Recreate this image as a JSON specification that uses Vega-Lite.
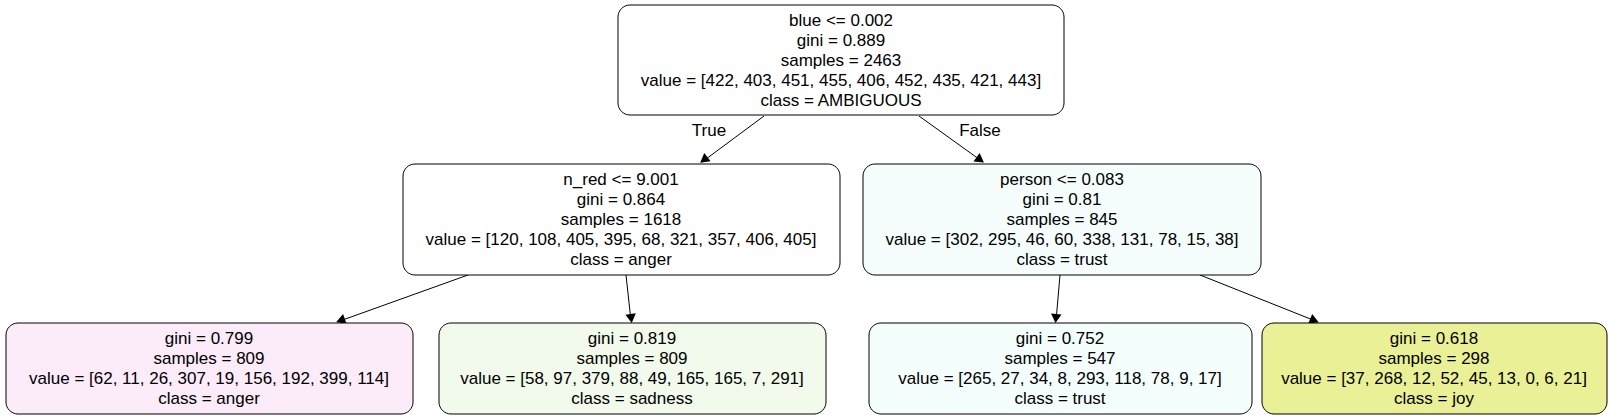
{
  "$schema": "https://vega.github.io/schema/vega-lite/v6.json",
  "width": 1610,
  "height": 419,
  "autosize": {"type": "fit", "contains": "padding"},
  "padding": 0,
  "background": "white",
  "config": {"view": {"stroke": null}},
  "datasets": {
    "nodes": [
      {"id": "root", "x0": 618, "x1": 1064, "y0": 5, "y1": 115, "fill": "#ffffff"},
      {"id": "l1", "x0": 403, "x1": 840, "y0": 164, "y1": 275, "fill": "#ffffff"},
      {"id": "r1", "x0": 863, "x1": 1261, "y0": 164, "y1": 275, "fill": "#f6fdfd"},
      {"id": "a", "x0": 6, "x1": 413, "y0": 323, "y1": 414, "fill": "#fcebf9"},
      {"id": "b", "x0": 439, "x1": 826, "y0": 323, "y1": 414, "fill": "#f1faeb"},
      {"id": "c", "x0": 869, "x1": 1252, "y0": 323, "y1": 414, "fill": "#f4fefd"},
      {"id": "d", "x0": 1262, "x1": 1607, "y0": 323, "y1": 414, "fill": "#eaf095"}
    ],
    "lines": [
      {"x": 841, "y": 21, "text": "blue <= 0.002"},
      {"x": 841, "y": 41, "text": "gini = 0.889"},
      {"x": 841, "y": 61, "text": "samples = 2463"},
      {"x": 841, "y": 81, "text": "value = [422, 403, 451, 455, 406, 452, 435, 421, 443]"},
      {"x": 841, "y": 101, "text": "class = AMBIGUOUS"},
      {"x": 621, "y": 180, "text": "n_red <= 9.001"},
      {"x": 621, "y": 200, "text": "gini = 0.864"},
      {"x": 621, "y": 220, "text": "samples = 1618"},
      {"x": 621, "y": 240, "text": "value = [120, 108, 405, 395, 68, 321, 357, 406, 405]"},
      {"x": 621, "y": 260, "text": "class = anger"},
      {"x": 1062, "y": 180, "text": "person <= 0.083"},
      {"x": 1062, "y": 200, "text": "gini = 0.81"},
      {"x": 1062, "y": 220, "text": "samples = 845"},
      {"x": 1062, "y": 240, "text": "value = [302, 295, 46, 60, 338, 131, 78, 15, 38]"},
      {"x": 1062, "y": 260, "text": "class = trust"},
      {"x": 209, "y": 339, "text": "gini = 0.799"},
      {"x": 209, "y": 359, "text": "samples = 809"},
      {"x": 209, "y": 379, "text": "value = [62, 11, 26, 307, 19, 156, 192, 399, 114]"},
      {"x": 209, "y": 399, "text": "class = anger"},
      {"x": 632, "y": 339, "text": "gini = 0.819"},
      {"x": 632, "y": 359, "text": "samples = 809"},
      {"x": 632, "y": 379, "text": "value = [58, 97, 379, 88, 49, 165, 165, 7, 291]"},
      {"x": 632, "y": 399, "text": "class = sadness"},
      {"x": 1060, "y": 339, "text": "gini = 0.752"},
      {"x": 1060, "y": 359, "text": "samples = 547"},
      {"x": 1060, "y": 379, "text": "value = [265, 27, 34, 8, 293, 118, 78, 9, 17]"},
      {"x": 1060, "y": 399, "text": "class = trust"},
      {"x": 1434, "y": 339, "text": "gini = 0.618"},
      {"x": 1434, "y": 359, "text": "samples = 298"},
      {"x": 1434, "y": 379, "text": "value = [37, 268, 12, 52, 45, 13, 0, 6, 21]"},
      {"x": 1434, "y": 399, "text": "class = joy"},
      {"x": 709, "y": 131, "text": "True"},
      {"x": 980, "y": 131, "text": "False"}
    ],
    "edges": [
      {"xs": 764, "ys": 116, "xe": 702, "ye": 162, "ax": 705, "ay": 159, "angle": 233},
      {"xs": 919, "ys": 116, "xe": 983, "ye": 162, "ax": 979, "ay": 159, "angle": 126},
      {"xs": 468, "ys": 275, "xe": 337, "ye": 322, "ax": 342, "ay": 320, "angle": 250},
      {"xs": 626, "ys": 275, "xe": 631, "ye": 321, "ax": 631, "ay": 317, "angle": 173},
      {"xs": 1060, "ys": 275, "xe": 1056, "ye": 321, "ax": 1056, "ay": 317, "angle": 185},
      {"xs": 1200, "ys": 275, "xe": 1318, "ye": 322, "ax": 1313, "ay": 320, "angle": 112}
    ]
  },
  "layer": [
    {
      "data": {"name": "edges"},
      "mark": {"type": "rule", "color": "black", "strokeWidth": 1},
      "encoding": {
        "x": {"field": "xs", "type": "quantitative", "scale": {"domain": [0, 1610], "nice": false, "zero": false}, "axis": null},
        "y": {"field": "ys", "type": "quantitative", "scale": {"domain": [0, 419], "nice": false, "zero": false, "reverse": true}, "axis": null},
        "x2": {"field": "xe"},
        "y2": {"field": "ye"}
      }
    },
    {
      "data": {"name": "edges"},
      "mark": {"type": "point", "shape": "triangle", "filled": true, "color": "black", "opacity": 1, "size": 110},
      "encoding": {
        "x": {"field": "ax", "type": "quantitative"},
        "y": {"field": "ay", "type": "quantitative"},
        "angle": {"field": "angle", "type": "quantitative", "scale": null}
      }
    },
    {
      "data": {"name": "nodes"},
      "mark": {"type": "rect", "cornerRadius": 12, "stroke": "black", "strokeWidth": 1},
      "encoding": {
        "x": {"field": "x0", "type": "quantitative"},
        "x2": {"field": "x1"},
        "y": {"field": "y0", "type": "quantitative"},
        "y2": {"field": "y1"},
        "fill": {"field": "fill", "type": "nominal", "scale": null}
      }
    },
    {
      "data": {"name": "lines"},
      "mark": {"type": "text", "font": "Liberation Sans", "fontSize": 17, "color": "black", "align": "center", "baseline": "middle"},
      "encoding": {
        "x": {"field": "x", "type": "quantitative"},
        "y": {"field": "y", "type": "quantitative"},
        "text": {"field": "text", "type": "nominal"}
      }
    }
  ]
}
